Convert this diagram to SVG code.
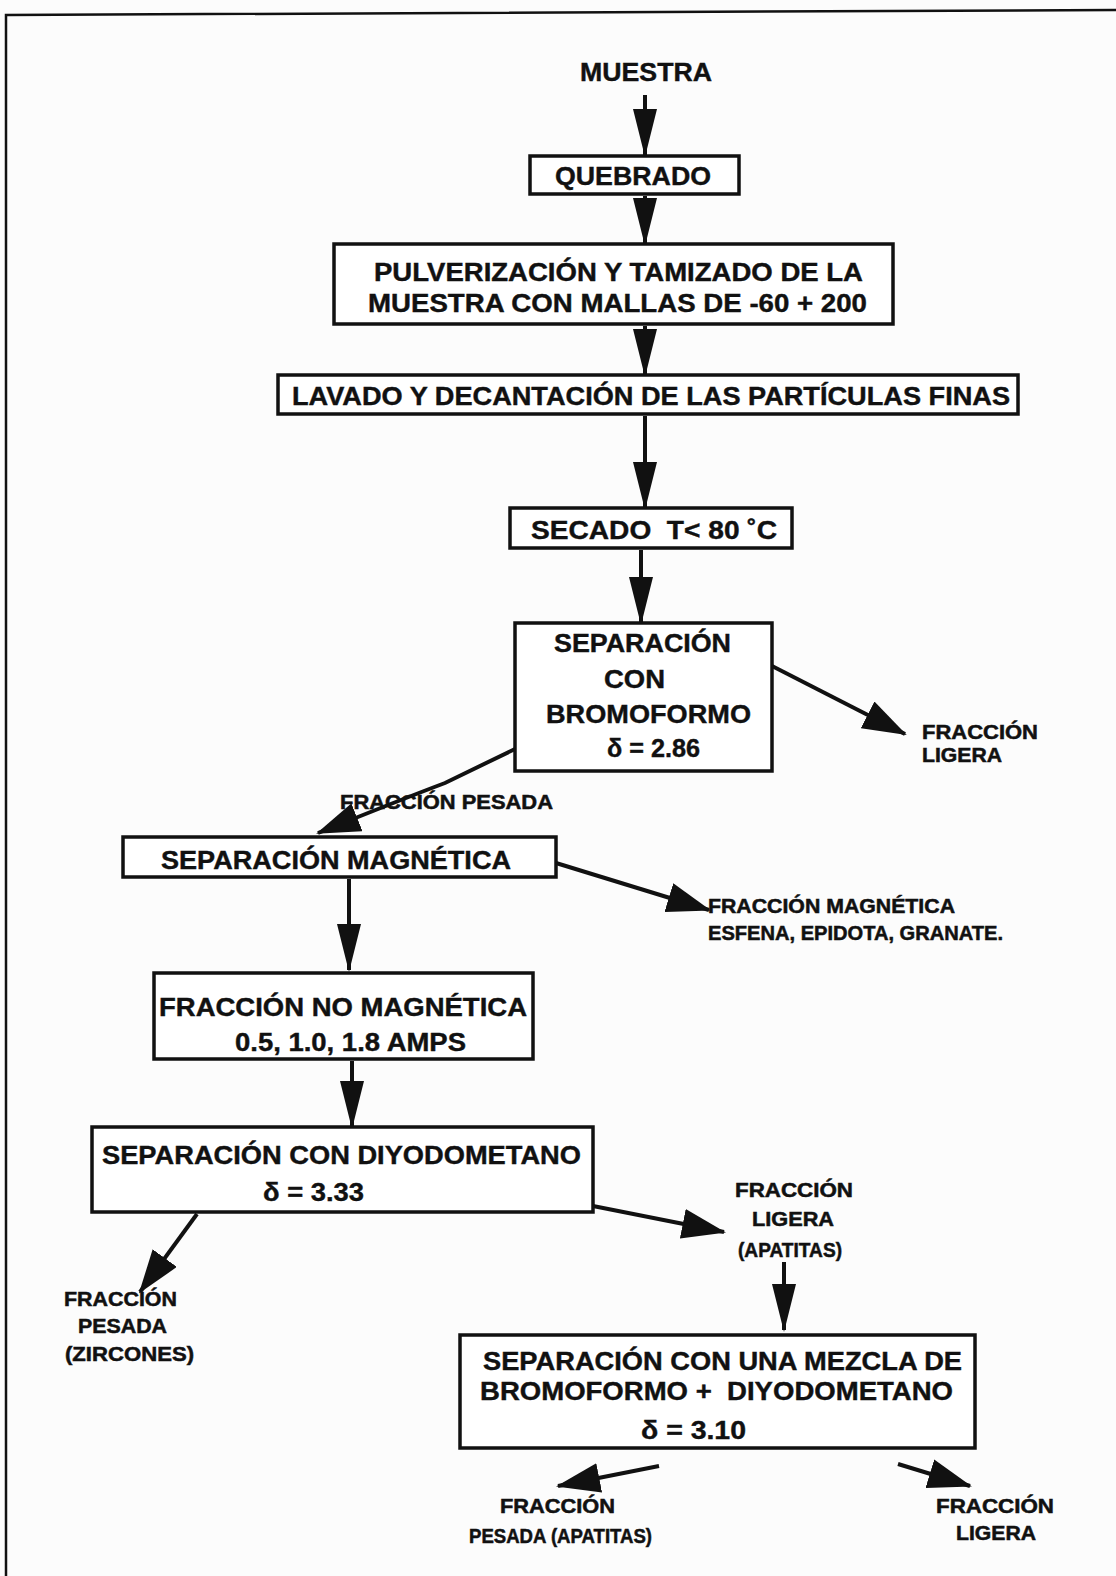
<svg xmlns="http://www.w3.org/2000/svg" width="1116" height="1576" viewBox="0 0 1116 1576">
<defs>
<style>
.bg{fill:#fcfcfc}
.frame{fill:none;stroke:#111;stroke-width:2.5}
.box{fill:#fff;stroke:#111;stroke-width:3.5}
.t{font-family:"Liberation Sans",Arial,Helvetica,sans-serif;font-weight:bold;font-size:25px;fill:#111;stroke:#111;stroke-width:0.4}
.s{font-family:"Liberation Sans",Arial,Helvetica,sans-serif;font-weight:bold;font-size:19.5px;fill:#111;stroke:#111;stroke-width:0.5}
.c{fill:none;stroke:#111;stroke-width:4}
</style>
<marker id="ah" markerUnits="userSpaceOnUse" viewBox="0 0 48 24" markerWidth="48" markerHeight="24" refX="46" refY="12" orient="auto">
<path d="M0,0 L48,12 L0,24 Z" fill="#111"/>
</marker>
<marker id="ahd" markerUnits="userSpaceOnUse" viewBox="0 0 44 30" markerWidth="44" markerHeight="30" refX="42" refY="15" orient="auto">
<path d="M0,0 L44,15 L0,30 Z" fill="#111"/>
</marker>
</defs>
<rect class="bg" x="0" y="0" width="1116" height="1576"/>
<path class="frame" d="M6 1576 L6 15 L1116 10"/>

<g id="connectors">
<line class="c" x1="645" y1="95" x2="645" y2="155" marker-end="url(#ah)"/>
<line class="c" x1="645" y1="196" x2="645" y2="244" marker-end="url(#ah)"/>
<line class="c" x1="645" y1="326" x2="645" y2="375" marker-end="url(#ah)"/>
<line class="c" x1="645" y1="416" x2="645" y2="508" marker-end="url(#ah)"/>
<line class="c" x1="641" y1="550" x2="641" y2="623" marker-end="url(#ah)"/>
<line class="c" x1="772" y1="666" x2="905" y2="734" marker-end="url(#ahd)"/>
<path class="c" d="M515 749 L445 783 Q400 800 318 833" marker-end="url(#ahd)"/>
<line class="c" x1="556" y1="863" x2="709" y2="910" marker-end="url(#ahd)"/>
<line class="c" x1="349" y1="879" x2="349" y2="970" marker-end="url(#ah)"/>
<line class="c" x1="352" y1="1061" x2="352" y2="1127" marker-end="url(#ah)"/>
<line class="c" x1="197" y1="1214" x2="140" y2="1292" marker-end="url(#ahd)"/>
<line class="c" x1="593" y1="1206" x2="724" y2="1232" marker-end="url(#ahd)"/>
<line class="c" x1="784" y1="1262" x2="784" y2="1330" marker-end="url(#ah)"/>
<line class="c" x1="659" y1="1466" x2="558" y2="1486" marker-end="url(#ahd)"/>
<line class="c" x1="898" y1="1464" x2="970" y2="1486" marker-end="url(#ahd)"/>
</g>

<g id="muestra">
<text class="t" x="580" y="81" textLength="132" lengthAdjust="spacingAndGlyphs">MUESTRA</text>
</g>
<g id="quebrado">
<rect class="box" x="530" y="156" width="209" height="38"/>
<text class="t" x="555" y="185" textLength="156" lengthAdjust="spacingAndGlyphs">QUEBRADO</text>
</g>
<g id="pulverizacion">
<rect class="box" x="334" y="244" width="559" height="80"/>
<text class="t" x="374" y="281" textLength="489" lengthAdjust="spacingAndGlyphs">PULVERIZACIÓN Y TAMIZADO DE LA</text>
<text class="t" x="368" y="312" textLength="499" lengthAdjust="spacingAndGlyphs">MUESTRA CON MALLAS DE -60 + 200</text>
</g>
<g id="lavado">
<rect class="box" x="278" y="375" width="740" height="39"/>
<text class="t" x="292" y="405" textLength="718" lengthAdjust="spacingAndGlyphs">LAVADO Y DECANTACIÓN DE LAS PARTÍCULAS FINAS</text>
</g>
<g id="secado">
<rect class="box" x="510" y="508" width="282" height="40"/>
<text class="t" x="531" y="539" textLength="246" lengthAdjust="spacingAndGlyphs">SECADO&#160; T&lt; 80 ˚C</text>
</g>
<g id="bromoformo">
<rect class="box" x="515" y="623" width="257" height="148"/>
<text class="t" x="554" y="652" textLength="177" lengthAdjust="spacingAndGlyphs">SEPARACIÓN</text>
<text class="t" x="604" y="688" textLength="61" lengthAdjust="spacingAndGlyphs">CON</text>
<text class="t" x="546" y="723" textLength="205" lengthAdjust="spacingAndGlyphs">BROMOFORMO</text>
<text class="t" x="607" y="757" textLength="93" lengthAdjust="spacingAndGlyphs">δ = 2.86</text>
</g>
<g id="fraccion-ligera-1">
<text class="s" x="922" y="739" textLength="116" lengthAdjust="spacingAndGlyphs">FRACCIÓN</text>
<text class="s" x="922" y="762" textLength="80" lengthAdjust="spacingAndGlyphs">LIGERA</text>
</g>
<g id="fraccion-pesada-label">
<text class="s" x="340" y="809" textLength="213" lengthAdjust="spacingAndGlyphs">FRACCIÓN PESADA</text>
</g>
<g id="magnetica">
<rect class="box" x="123" y="837" width="433" height="40"/>
<text class="t" x="161" y="869" textLength="350" lengthAdjust="spacingAndGlyphs">SEPARACIÓN MAGNÉTICA</text>
</g>
<g id="fraccion-magnetica">
<text class="s" x="708" y="913" textLength="247" lengthAdjust="spacingAndGlyphs">FRACCIÓN MAGNÉTICA</text>
<text class="s" x="708" y="940" textLength="295" lengthAdjust="spacingAndGlyphs">ESFENA, EPIDOTA, GRANATE.</text>
</g>
<g id="no-magnetica">
<rect class="box" x="154" y="973" width="379" height="86"/>
<text class="t" x="159" y="1016" textLength="368" lengthAdjust="spacingAndGlyphs">FRACCIÓN NO MAGNÉTICA</text>
<text class="t" x="235" y="1051" textLength="231" lengthAdjust="spacingAndGlyphs">0.5, 1.0, 1.8 AMPS</text>
</g>
<g id="diyodometano">
<rect class="box" x="92" y="1127" width="501" height="85"/>
<text class="t" x="102" y="1164" textLength="479" lengthAdjust="spacingAndGlyphs">SEPARACIÓN CON DIYODOMETANO</text>
<text class="t" x="263" y="1201" textLength="101" lengthAdjust="spacingAndGlyphs">δ = 3.33</text>
</g>
<g id="zircones">
<text class="s" x="64" y="1306" textLength="113" lengthAdjust="spacingAndGlyphs">FRACCIÓN</text>
<text class="s" x="78" y="1333" textLength="89" lengthAdjust="spacingAndGlyphs">PESADA</text>
<text class="s" x="65" y="1361" textLength="129" lengthAdjust="spacingAndGlyphs">(ZIRCONES)</text>
</g>
<g id="ligera-apatitas">
<text class="s" x="735" y="1197" textLength="118" lengthAdjust="spacingAndGlyphs">FRACCIÓN</text>
<text class="s" x="752" y="1226" textLength="82" lengthAdjust="spacingAndGlyphs">LIGERA</text>
<text class="s" x="738" y="1257" textLength="104" lengthAdjust="spacingAndGlyphs">(APATITAS)</text>
</g>
<g id="mezcla">
<rect class="box" x="460" y="1335" width="515" height="113"/>
<text class="t" x="483" y="1370" textLength="479" lengthAdjust="spacingAndGlyphs">SEPARACIÓN CON UNA MEZCLA DE</text>
<text class="t" x="480" y="1400" textLength="473" lengthAdjust="spacingAndGlyphs">BROMOFORMO +&#160; DIYODOMETANO</text>
<text class="t" x="641" y="1439" textLength="105" lengthAdjust="spacingAndGlyphs">δ = 3.10</text>
</g>
<g id="pesada-apatitas">
<text class="s" x="500" y="1513" textLength="115" lengthAdjust="spacingAndGlyphs">FRACCIÓN</text>
<text class="s" x="469" y="1543" textLength="183" lengthAdjust="spacingAndGlyphs">PESADA (APATITAS)</text>
</g>
<g id="ligera-final">
<text class="s" x="936" y="1513" textLength="118" lengthAdjust="spacingAndGlyphs">FRACCIÓN</text>
<text class="s" x="956" y="1540" textLength="80" lengthAdjust="spacingAndGlyphs">LIGERA</text>
</g>
</svg>
